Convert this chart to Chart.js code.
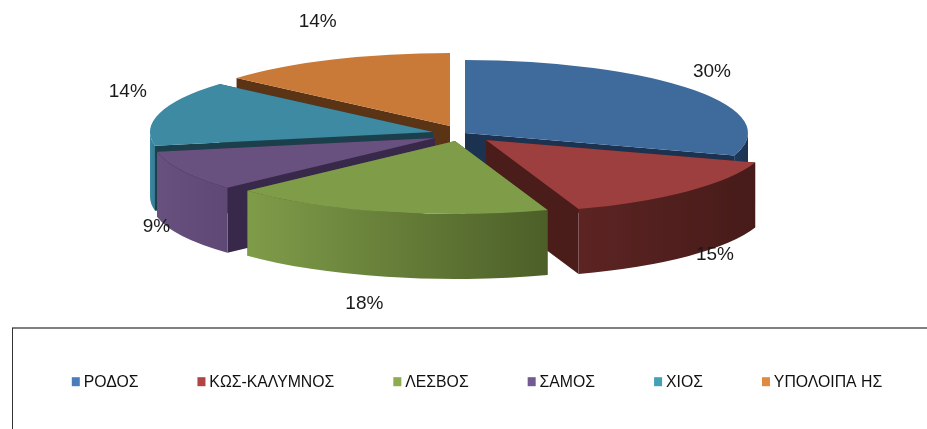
<!DOCTYPE html>
<html>
<head>
<meta charset="utf-8">
<script src="https://cdn.jsdelivr.net/npm/chart.js@4"></script>
<style>
    html, body { margin: 0; padding: 0; background: #fff; }
    #wrap { width: 927px; height: 429px; }
    #shareChart { filter: blur(0.35px); }
</style>
</head>
<body>
<div id="wrap"><canvas id="shareChart" width="927" height="429"></canvas></div>
<script>
const categories = ['ΡΟΔΟΣ', 'ΚΩΣ-ΚΑΛΥΜΝΟΣ', 'ΛΕΣΒΟΣ', 'ΣΑΜΟΣ', 'ΧΙΟΣ', 'ΥΠΟΛΟΙΠΑ ΗΣ'];
const shares = [30, 14.7, 18.4, 8.9, 14.4, 13.6];

// colours
const legendColors = ['#4a7ebb', '#b04543', '#8dab4f', '#735a92', '#43a0b5', '#e08a40'];
const topColors = ['#3f6b9c', '#9c3f3e', '#7f9c49', '#68507f', '#3d8aa2', '#c97a38'];
const sideColors = ['#1b3350', '#4a1c1a', '#4c5f28', '#38284a', '#1c3f4c', '#5a3415'];
const wallLight = ['#1f3a5c', '#5c2423', '#7f9c49', '#68507f', '#3d8aa2', '#c97a38'];
const wallDark = ['#1b3350', '#461b19', '#4c5f28', '#5e4874', '#36798f', '#b06a30'];

// 3d look of the pie
const pieCenter = { x: 462, y: 134 };
const pieRadius = 283;
const squash = 0.258;
const wallHeight = 65;
const sliceShift = [[3, -1], [24, 6], [-7, 7], [-27, 4], [-29, -2], [-12, -8]];
const drawOrder = [0, 5, 4, 3, 1, 2];
const labelNudge = [[18, -18], [27, 64], [-22, 92], [-26, 56], [-32, -21], [-15, -38]];

function DrawSlice(ctx, arc, i) {
    const cx = pieCenter.x + sliceShift[i][0];
    const cy = pieCenter.y + sliceShift[i][1];
    const r = arc.outerRadius;
    const ry = r * squash;
    const a = arc.startAngle;
    const b = arc.endAngle;

    // the two cut faces
    ctx.fillStyle = sideColors[i];
    [a, b].forEach(function (angle) {
        const px = cx + Math.cos(angle) * r;
        const py = cy + Math.sin(angle) * ry;
        ctx.beginPath();
        ctx.moveTo(cx, cy);
        ctx.lineTo(px, py);
        ctx.lineTo(px, py + wallHeight);
        ctx.lineTo(cx, cy + wallHeight);
        ctx.closePath();
        ctx.fill();
    });

    // outer wall, only the part that faces the viewer
    const tau = Math.PI * 2;
    [0, tau].forEach(function (turn) {
        const from = Math.max(a, turn);
        const to = Math.min(b, turn + Math.PI);
        if (to <= from) return;
        const x1 = cx + Math.cos(to) * r;
        const x2 = cx + Math.cos(from) * r;
        const grad = ctx.createLinearGradient(x1, 0, x2, 0);
        grad.addColorStop(0, wallLight[i]);
        grad.addColorStop(1, wallDark[i]);
        ctx.fillStyle = grad;
        ctx.beginPath();
        ctx.ellipse(cx, cy, r, ry, 0, from, to);
        ctx.ellipse(cx, cy + wallHeight, r, ry, 0, to, from, true);
        ctx.closePath();
        ctx.fill();
    });

    // top face is the library's own arc
    ctx.save();
    ctx.translate(cx, cy);
    ctx.scale(1, squash);
    ctx.translate(-arc.x, -arc.y);
    arc.draw(ctx);
    ctx.restore();
}

const pie3d = {
    id: 'pie3d',
    beforeDatasetsDraw: function (chart) {
        const ctx = chart.ctx;
        const arcs = chart.getDatasetMeta(0).data;

        drawOrder.forEach(function (i) {
            DrawSlice(ctx, arcs[i], i);
        });

        // percent labels
        ctx.save();
        ctx.fillStyle = '#1a1a1a';
        ctx.font = '19px "Liberation Sans"';
        ctx.textAlign = 'center';
        ctx.textBaseline = 'middle';
        arcs.forEach(function (arc, i) {
            const mid = (arc.startAngle + arc.endAngle) / 2;
            const x = pieCenter.x + sliceShift[i][0] + Math.cos(mid) * arc.outerRadius + labelNudge[i][0];
            const y = pieCenter.y + sliceShift[i][1] + Math.sin(mid) * arc.outerRadius * squash + labelNudge[i][1];
            ctx.fillText(Math.round(shares[i]) + '%', x, y);
        });
        ctx.restore();

        // legend frame
        ctx.save();
        ctx.strokeStyle = '#808080';
        ctx.lineWidth = 2;
        ctx.beginPath();
        ctx.moveTo(12, 328);
        ctx.lineTo(927, 328);
        ctx.stroke();
        ctx.strokeStyle = '#333';
        ctx.lineWidth = 1;
        ctx.beginPath();
        ctx.moveTo(12.5, 328);
        ctx.lineTo(12.5, 429);
        ctx.stroke();
        ctx.restore();

        // legend boxes are wider than the label gap chart.js leaves for them
        chart.legend.legendHitBoxes.forEach(function (box, i) {
            ctx.fillStyle = legendColors[i];
            ctx.fillRect(box.left, box.top + 2, 8, 9);
        });

        return false;
    }
};

new Chart(document.getElementById('shareChart').getContext('2d'), {
    type: 'pie',
    data: {
        labels: categories,
        datasets: [{
            data: shares,
            backgroundColor: topColors,
            borderWidth: 0,
            radius: pieRadius
        }]
    },
    options: {
        responsive: false,
        animation: false,
        layout: { padding: { left: 4, right: -23, bottom: 28 } },
        plugins: {
            tooltip: { enabled: false },
            legend: {
                position: 'bottom',
                labels: {
                    color: '#111',
                    font: { family: '"Liberation Sans"', size: 15.8 },
                    boxWidth: 4,
                    boxHeight: 9,
                    padding: 59,
                    generateLabels: function (chart) {
                        const items = Chart.overrides.pie.plugins.legend.labels.generateLabels(chart);
                        items.forEach(function (item) {
                            item.fillStyle = 'transparent';
                            item.strokeStyle = 'transparent';
                            item.lineWidth = 0;
                        });
                        return items;
                    }
                }
            }
        }
    },
    plugins: [pie3d]
});
</script>
</body>
</html>
